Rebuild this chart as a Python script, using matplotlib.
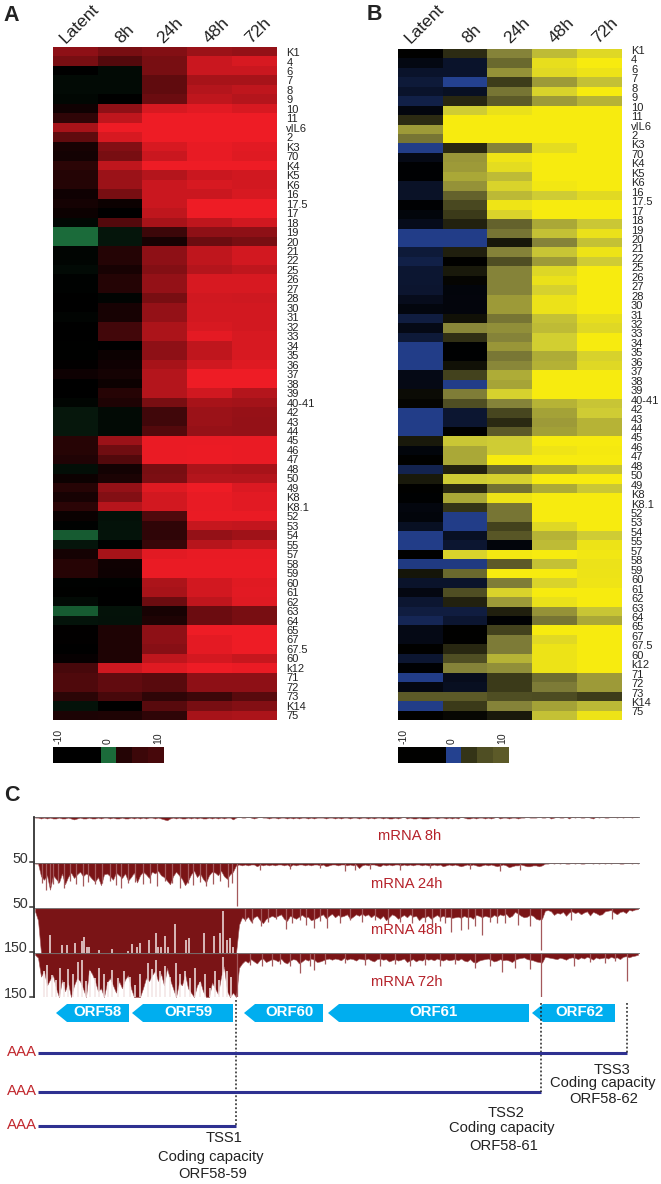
"""Recreate the three panel figure: two time course heatmaps and the mRNA coverage tracks."""

import numpy as np
import matplotlib
matplotlib.use('Agg')
import matplotlib.pyplot as plt
from matplotlib.colors import LinearSegmentedColormap
from matplotlib.patches import Polygon

plt.rcParams['font.family'] = ['Liberation Sans', 'DejaVu Sans']

W, H = 661, 1184

times = ['Latent', '8h', '24h', '48h', '72h']
genes = ['K1', '4', '6', '7', '8', '9', '10', '11', 'vIL6', '2',
         'K3', '70', 'K4', 'K5', 'K6', '16', '17.5', '17', '18', '19',
         '20', '21', '22', '25', '26', '27', '28', '30', '31', '32',
         '33', '34', '35', '36', '37', '38', '39', '40-41', '42', '43',
         '44', '45', '46', '47', '48', '50', '49', 'K8', 'K8.1', '52',
         '53', '54', '55', '57', '58', '59', '60', '61', '62', '63',
         '64', '65', '67', '67.5', '60', 'k12', '71', '72', '73', 'K14', '75']

# one row per gene, columns follow times
heat_a = [
    [6, 5, 5.5, 6.5, 6.2], [5, 3.5, 5, 8.5, 9], [0, -1, 5, 8.5, 8.5], [-1, -1, 4, 7, 7],
    [-1, -1, 4, 7.5, 8], [-0.7, 0, 4.5, 8, 7.5], [0.7, 6, 9, 9.5, 9], [2, 8, 10, 10, 10],
    [7, 10, 10, 10, 10], [4, 9, 10, 10, 10], [1, 5.5, 9, 9.7, 9.5], [0.8, 5, 8.5, 9.7, 9.3],
    [1.8, 8, 10, 10, 10], [1.5, 6.5, 7.5, 8.5, 8.7], [1.5, 6.5, 8.5, 9, 8.8], [0.7, 5, 8.5, 8.5, 9],
    [0.9, 0.5, 8.5, 10, 10], [0.5, 0, 8, 10, 10], [-0.7, 3.5, 7, 8, 8.7], [-10, -2, 2.5, 6, 6],
    [-10, -2, 1, 4.5, 5], [-0.5, 1.5, 6, 8, 8.8], [-0.5, 1.5, 6, 8, 8.8], [-1, 1, 5.5, 7.5, 8],
    [-0.3, 1.5, 6.2, 9, 9], [-0.3, 1.5, 6.2, 9, 9], [0, -0.4, 5, 8.7, 8.6], [0, 1, 6.2, 8.8, 8.8],
    [-0.4, 1, 6.2, 8.8, 8.8], [0, 2.8, 7.2, 9, 8.8], [0, 2.8, 7.2, 9.6, 9], [-0.1, 0, 6, 8, 9],
    [-0.1, 0.5, 6, 8, 9], [0.1, 0.7, 7, 8.7, 9.3], [0.6, 0.9, 7.5, 10, 10], [0, 0.5, 7.5, 10, 10],
    [0, 1.6, 7.5, 8.7, 7.5], [-0.5, 1.3, 5, 7, 6.8], [-2.2, -1, 2.7, 6.5, 6.3], [-2.2, -1, 2.7, 6.5, 6.2],
    [-2.2, -1, 3.5, 6.3, 6.2], [1.6, 6.5, 9.8, 9.8, 9.8], [1.6, 4.7, 9.8, 9.9, 9.8], [1.4, 3.5, 9.8, 9.9, 9.8],
    [-1.4, 0.8, 5, 7.2, 7], [0.5, 1.1, 5.2, 7.5, 7.5], [1.6, 6.2, 9.3, 10, 9.2], [1, 5.5, 8.8, 9.7, 9.5],
    [1.8, 7.6, 8.8, 9.7, 9.5], [0.4, -1.5, 3.3, 9.8, 9.8], [-0.3, -1.7, 2, 8.3, 8.2], [-8.5, -1.8, 2, 6.2, 6.7],
    [-2, -0.3, 2.3, 7.7, 8.3], [0.9, 7, 9.5, 9.7, 9.7], [1.6, 0.7, 9.8, 9.8, 9.8], [1.6, 0.6, 9.8, 9.8, 9.8],
    [-0.2, -0.2, 7.2, 8.8, 9.4], [-0.1, 0, 7, 8.8, 9.5], [-1, 0, 4.5, 8, 9.3], [-8.5, -1.7, 1, 4.5, 5],
    [-1.8, -1.6, 1.3, 4.5, 5], [0.1, 1.3, 6, 10, 10], [0.1, 1.3, 6, 9.6, 10], [0, 1.3, 5.7, 9.6, 10],
    [0.3, 1.3, 8, 8.9, 8.3], [3, 8.6, 9.4, 10, 9.8], [3.3, 4.1, 3.7, 6, 6], [3.3, 4.1, 3.7, 6, 6],
    [1.8, 3, 2, 2.5, 3.7], [-1.7, 0, 3.7, 5, 5.5], [1.2, 1.3, 2, 7, 7.2],
]

heat_b = [
    [0, 1.7, 5, 7.3, 8.8], [-1.3, -3, 4, 9.2, 10], [-3, -3, 5.7, 8.9, 9.5], [-4, -10, 2.3, 6, 7.5],
    [-3, -2.5, 4.5, 8.5, 10], [-5, 1.5, 3.5, 6, 7], [-1, 8, 9.3, 10, 10], [1.7, 10, 10, 10, 10],
    [6, 10, 10, 10, 10], [4.5, 10, 10, 10, 10], [-9.5, 1.5, 5, 9, 10], [-1.5, 5.8, 9.6, 10, 10],
    [-0.3, 6, 9, 10, 10], [-0.3, 6.5, 7.3, 10, 10], [-2.8, 5.7, 8.5, 9.7, 10], [-2.8, 3.8, 7.2, 8, 8.9],
    [-0.3, 2.8, 9.6, 10, 10], [-0.8, 2.2, 8.5, 10, 10], [-1.8, 1.3, 3.8, 6.5, 7.8], [-9.5, -9.5, 4.5, 7.5, 9.3],
    [-9.5, -9.5, 0.9, 5, 7.5], [-4, 1.2, 5, 7.7, 9.5], [-5, 0, 3, 6, 8], [-3.5, 1, 5, 8.7, 10],
    [-3.5, 0.2, 5, 9.3, 10], [-3.3, -0.8, 5, 8.3, 10], [-2, -0.9, 6, 9.4, 10], [-1, -0.9, 6, 9.4, 10],
    [-4.5, 0.7, 4.5, 7.5, 9.2], [-1.5, 5.2, 5.5, 7.3, 8.8], [-4, 1.8, 5, 8.2, 10], [-9.5, -0.2, 5.8, 8.2, 10],
    [-9.5, -0.2, 4.6, 6.7, 8.4], [-9.5, 0.7, 5.2, 6.9, 8.8], [-1.5, 2.5, 6.7, 10, 10], [-1.5, -9.5, 6.4, 10, 10],
    [0.4, 4.8, 8.3, 10, 10], [0.2, 3, 5, 7, 7.7], [-9.5, -3.5, 2.7, 6.3, 8], [-9.5, -3.5, 1.6, 6, 7],
    [-9.5, 0, 3.5, 6.2, 7], [1, 7.8, 8, 10, 10], [-0.8, 6.5, 8, 9.6, 9.9], [0, 6.5, 10, 10, 10],
    [-5.5, 1.3, 4, 6.3, 7.5], [1, 8, 8.3, 10, 10], [0, 1.6, 4.3, 6.6, 7.8], [-0.2, 6.5, 9.5, 10, 10],
    [-1, 2, 4.5, 10, 10], [-0.8, -9.5, 4.5, 10, 10], [-2.5, -9.5, 2.5, 8.8, 10], [-9.5, -2.5, 3.3, 7, 8],
    [-9.5, -3.5, -0.8, 7.3, 9.5], [0, 8.5, 9.8, 10, 9.7], [-9, -9, 3.5, 7.5, 9.4], [0.8, 4, 10, 10, 9.5],
    [-3, -3, 4.8, 8.5, 9.6], [-1.2, 3, 8.5, 10, 10], [-3.5, 1.3, 6, 9.3, 10], [-4.5, -4.5, 1.2, 5.7, 7.7],
    [-6, -3.5, -0.3, 4.5, 6.5], [-1.5, 0, 2.5, 10, 10], [-1.5, 0, 4.7, 8.9, 10], [0, 1.5, 4.7, 9.5, 10],
    [-3.5, 3, 7, 9.5, 10], [-0.3, 5, 5.5, 9.5, 10], [-9.5, -2, 2.2, 4.2, 6], [-1.2, -2.3, 2.2, 4.7, 6],
    [3.5, 3.5, 3, 2.9, 2.3], [-9.5, 2.2, 5, 6.3, 7.2], [0, 0.3, 1, 7.5, 9.5],
]

# colour key cells under each heatmap
key_a = [0, 0, 0, -10, 1.5, 2.5, 3]
key_b = [0, 0, 0, -10, 2, 3, 3.5]
key_labels = ['-10', '0', '10']

# coverage depth per 3 bp-like bin along the genome, one block of ten per row
depth_8h = [
    1, 1, 2, 1, 2, 1, 2, 2, 1, 2,
    2, 1, 2, 3, 2, 1, 2, 2, 1, 2,
    2, 1, 2, 1, 1, 2, 1, 2, 2, 1,
    2, 2, 1, 2, 1, 2, 1, 2, 1, 1,
    2, 1, 2, 3, 4, 2, 1, 2, 1, 2,
    2, 1, 2, 1, 2, 1, 2, 2, 1, 2,
    1, 2, 1, 2, 1, 1, 3, 1, 0, 1,
    1, 0, 1, 2, 1, 0, 1, 1, 2, 1,
    1, 2, 1, 1, 2, 1, 2, 1, 2, 1,
    1, 2, 1, 2, 1, 1, 1, 2, 1, 1,
    2, 1, 2, 1, 1, 2, 1, 1, 2, 1,
    1, 2, 1, 2, 1, 1, 2, 1, 2, 2,
    1, 2, 1, 0, 2, 1, 2, 2, 1, 2,
    2, 2, 1, 1, 2, 1, 1, 2, 1, 2,
    1, 2, 0, 1, 2, 2, 1, 2, 1, 1,
    2, 1, 2, 1, 0, 2, 1, 1, 2, 1,
    1, 2, 1, 1, 0, 1, 1, 1, 0, 1,
    1, 0, 2, 1, 0, 1, 1, 0, 2, 0,
    1, 0, 1, 1, 0, 1, 2, 0, 1, 0,
    1, 1, 0, 0, 1, 0, 1, 0, 0, 1,
    0, 0,
]
depth_24h = [
    1, 1, 15, 19, 14, 30, 14, 18, 22, 12,
    24, 16, 11, 17, 13, 10, 15, 12, 14, 18,
    21, 16, 25, 13, 12, 15, 19, 11, 14, 17,
    12, 20, 16, 11, 22, 14, 10, 13, 17, 10,
    12, 9, 14, 16, 20, 24, 15, 10, 14, 18,
    25, 20, 13, 9, 16, 12, 18, 22, 14, 10,
    11, 14, 9, 15, 18, 13, 10, 3, 2, 3,
    2, 3, 2, 2, 4, 2, 3, 2, 3, 2,
    3, 2, 2, 3, 2, 4, 2, 3, 2, 2,
    3, 2, 3, 2, 2, 3, 2, 4, 3, 2,
    2, 3, 2, 2, 3, 2, 3, 2, 6, 3,
    2, 3, 2, 2, 3, 4, 2, 3, 2, 3,
    2, 2, 3, 2, 3, 2, 3, 2, 2, 3,
    2, 3, 3, 2, 3, 2, 4, 3, 2, 3,
    2, 3, 4, 3, 2, 3, 2, 3, 4, 3,
    2, 3, 2, 3, 4, 3, 2, 3, 5, 4,
    3, 3, 2, 3, 4, 4, 3, 3, 4, 3,
    1, 1, 0, 1, 0, 1, 0, 1, 1, 0,
    1, 0, 1, 1, 0, 0, 1, 0, 1, 0,
    1, 0, 1, 0, 0, 1, 1, 0, 0, 1,
    0, 1,
]
depth_48h = [
    10, 40, 150, 150, 150, 150, 150, 150, 150, 150,
    150, 150, 150, 150, 150, 150, 150, 150, 150, 150,
    150, 150, 150, 150, 150, 150, 150, 150, 150, 150,
    150, 150, 150, 150, 150, 150, 150, 150, 150, 150,
    150, 150, 150, 150, 150, 150, 150, 150, 150, 150,
    150, 150, 150, 150, 150, 150, 150, 150, 150, 150,
    150, 150, 150, 150, 150, 150, 150, 150, 55, 30,
    38, 28, 45, 30, 25, 40, 50, 35, 30, 25,
    30, 25, 20, 35, 42, 25, 30, 35, 28, 22,
    30, 28, 40, 36, 32, 25, 20, 34, 25, 18,
    30, 22, 28, 25, 20, 35, 28, 20, 25, 18,
    25, 20, 30, 22, 28, 35, 25, 40, 30, 20,
    25, 35, 28, 22, 30, 20, 28, 25, 40, 30,
    30, 25, 35, 28, 22, 30, 25, 30, 28, 32,
    30, 28, 32, 25, 30, 28, 35, 22, 25, 30,
    25, 28, 30, 22, 28, 20, 24, 18, 30, 25,
    12, 18, 25, 30, 28, 22, 25, 35, 38, 35,
    8, 6, 10, 22, 15, 18, 12, 25, 14, 10,
    16, 12, 20, 14, 10, 24, 12, 16, 22, 20,
    10, 8, 6, 14, 20, 12, 10, 16, 5, 8,
    4, 3,
]
depth_72h = [
    5, 15, 80, 60, 110, 90, 75, 120, 150, 90,
    130, 100, 150, 110, 85, 95, 120, 150, 55, 70,
    95, 130, 120, 150, 100, 85, 110, 135, 95, 120,
    90, 75, 120, 150, 150, 150, 120, 85, 95, 75,
    60, 95, 70, 110, 50, 90, 120, 150, 100, 110,
    70, 120, 135, 150, 110, 95, 130, 150, 150, 100,
    120, 140, 80, 45, 130, 150, 135, 150, 50, 35,
    25, 32, 20, 28, 35, 22, 18, 30, 25, 20,
    22, 28, 18, 30, 35, 25, 20, 22, 35, 28,
    20, 25, 18, 22, 30, 28, 24, 20, 18, 22,
    18, 20, 24, 16, 22, 18, 20, 25, 18, 20,
    22, 18, 24, 28, 20, 18, 22, 20, 28, 24,
    20, 25, 22, 18, 30, 24, 20, 28, 22, 25,
    18, 22, 20, 24, 18, 22, 25, 20, 24, 22,
    20, 24, 18, 25, 28, 20, 30, 32, 25, 22,
    20, 18, 22, 28, 25, 20, 24, 22, 25, 30,
    22, 18, 16, 14, 20, 22, 24, 28, 30, 32,
    12, 14, 16, 18, 20, 15, 18, 22, 16, 14,
    16, 20, 14, 18, 12, 16, 22, 14, 18, 16,
    14, 18, 12, 16, 14, 20, 12, 10, 14, 10,
    8, 5,
]

# single position peaks: genome position, depth
spikes_24h = [(237, 48), (46, 30), (355, 8),
              (42, 22), (50, 26), (53, 24), (58, 22), (64, 28), (70, 20), (76, 24), (83, 26),
              (88, 21), (95, 24), (102, 22), (110, 20), (116, 25), (121, 28), (128, 22), (135, 21),
              (143, 24), (150, 22), (157, 26), (165, 20), (172, 23), (180, 28), (188, 22), (193, 25),
              (200, 21), (206, 26), (213, 24), (220, 20), (228, 27), (232, 22),
              (260, 8), (290, 7), (320, 6), (345, 9), (370, 7), (400, 8), (430, 6), (470, 7),
              (500, 9), (520, 8)]
spikes_48h = [(541, 140), (261, 58), (286, 70), (314, 67), (327, 67), (451, 80), (461, 72),
              (468, 70), (482, 89), (497, 48), (571, 40), (612, 37),
              (245, 42), (252, 50), (268, 45), (276, 35), (292, 48), (300, 40), (306, 55), (320, 42),
              (340, 50), (350, 38), (362, 45), (375, 40), (388, 52), (400, 44), (412, 50), (425, 46),
              (432, 55), (440, 42), (445, 50), (475, 60), (490, 45), (505, 50), (518, 55), (530, 58)]
spikes_72h = [(237, 150), (541, 150), (627, 95), (502, 65), (574, 44), (300, 67), (314, 58), (272, 44),
              (250, 40), (262, 45), (280, 38), (290, 42), (310, 44), (325, 36), (345, 35), (365, 40),
              (380, 45), (395, 38), (410, 42), (425, 40), (440, 44), (455, 38), (475, 50), (490, 45),
              (515, 50), (530, 55), (590, 30), (605, 35), (615, 28)]

# single position dips in the high coverage block: genome position, depth at the dip
dips_48h = [(50, 89), (62, 122), (67, 122), (75, 114), (82, 108), (84, 94), (87, 128), (89, 128),
            (99, 138), (112, 136), (128, 142), (132, 118), (137, 130), (140, 115), (149, 105),
            (156, 83), (158, 130), (161, 130), (165, 92), (168, 130), (175, 52), (186, 105),
            (189, 100), (204, 83), (214, 92), (220, 81), (223, 8), (227, 105), (230, 100), (233, 130)]
dips_72h = [(44, 60), (47, 40), (52, 75), (56, 90), (60, 50), (64, 100), (68, 55), (73, 70), (78, 30),
            (82, 23), (86, 95), (90, 60), (95, 85), (99, 50), (104, 70), (108, 100), (112, 57),
            (118, 85), (124, 60), (130, 80), (135, 110), (140, 70), (148, 33), (152, 55), (156, 22),
            (160, 60), (165, 45), (170, 80), (176, 35), (180, 70), (185, 60), (190, 85), (195, 50),
            (200, 100), (205, 70), (210, 120), (215, 60), (219, 90), (223, 11), (227, 60), (231, 80)]

track_names = ['mRNA 8h', 'mRNA 24h', 'mRNA 48h', 'mRNA 72h']
scale_labels = ['50', '50', '150', '150']
orf_names = ['ORF58', 'ORF59', 'ORF60', 'ORF61', 'ORF62']
orf_left = [56, 132, 244, 328, 532]
orf_right = [129, 233, 323, 529, 615]
tss_pos = [236, 541, 627]

DARK = '#7a1416'
TIP = '#a4585b'
RED_TEXT = '#b5222a'
GREY = '#6e6e6e'

cmap_a = LinearSegmentedColormap.from_list('green_red', ['#1b6b3a', '#000000', '#ee1c25'])
cmap_b = LinearSegmentedColormap.from_list(
    'blue_yellow',
    [(0, '#24418f'), (0.5, '#000000'), (0.75, '#84823a'), (0.9, '#cfcc35'), (1, '#f7eb0f')])


def px_axes(fig, x0, y0, x1, y1):
    """Add an Axes given a box in image pixels, y counted from the top."""
    return fig.add_axes([x0 / W, 1 - y1 / H, (x1 - x0) / W, (y1 - y0) / H])


def draw_heatmap(fig, values, cmap, box, label_shift):
    ax = px_axes(fig, *box)
    ax.imshow(np.array(values), aspect='auto', cmap=cmap, vmin=-10, vmax=10, interpolation='nearest')
    ax.set_xticks([])
    ax.yaxis.tick_right()
    ax.set_yticks(np.arange(len(genes)) + label_shift, genes, fontsize=8, color='#222222')
    ax.tick_params(axis='y', length=0, pad=6.5)
    for side in ax.spines.values():
        side.set_visible(False)
    return ax


def draw_key(fig, values, cmap, box, label_at):
    ax = px_axes(fig, *box)
    ax.imshow(np.array([values]), aspect='auto', cmap=cmap, vmin=-10, vmax=10, interpolation='nearest')
    ax.set_yticks([])
    ax.xaxis.tick_top()
    ax.set_xticks(label_at, key_labels, rotation=90, fontsize=7.5, color='#222222')
    ax.tick_params(axis='x', length=0, pad=2)
    for side in ax.spines.values():
        side.set_visible(False)


def draw_track(fig, depth, ymax, box, spikes=(), dips=()):
    ax = px_axes(fig, *box)
    pos = 35 + 3 * np.arange(len(depth))
    ax.fill_between(pos, depth, 0, facecolor=DARK, edgecolor=TIP, linewidth=0.4)
    for x, d in spikes:
        ax.vlines(x, 0, d, color=TIP, linewidth=0.9)
    for x, d in dips:
        ax.vlines(x, d, ymax, color='#f3e4e4', linewidth=1.1)
    ax.axhline(0, color=GREY, linewidth=1.2, zorder=5)
    ax.set_xlim(box[0], box[2])
    ax.set_ylim(ymax, 0)
    ax.axis('off')
    return ax


def main():
    fig = plt.figure(figsize=(W / 100, H / 100), dpi=100)

    draw_heatmap(fig, heat_a, cmap_a, (53.3, 47.3, 277.3, 720), 0)
    draw_heatmap(fig, heat_b, cmap_b, (398.3, 49, 622, 720), -0.4)
    draw_key(fig, key_a, cmap_a, (53.3, 747, 164, 763), [-0.14, 2.93, 6.13])
    draw_key(fig, key_b, cmap_b, (398.3, 747, 509, 763), [-0.2, 2.9, 6.1])

    draw_track(fig, depth_8h, 50, (33, 816.7, 640, 861.7))
    draw_track(fig, depth_24h, 50, (33, 862.7, 640, 907.7), spikes_24h)
    draw_track(fig, depth_48h, 150, (33, 908.3, 640, 953.3), spikes_48h, dips_48h)
    draw_track(fig, depth_72h, 150, (33, 953.3, 640, 997), spikes_72h, dips_72h)

    # overlay in image pixels for the annotation layer
    over = fig.add_axes([0, 0, 1, 1])
    over.set_xlim(0, W)
    over.set_ylim(H, 0)
    over.axis('off')
    over.patch.set_alpha(0)

    for letter, x, y in [('A', 3, 21), ('B', 367, 20), ('C', 4, 801)]:
        over.text(x, y, letter, fontsize=15.5, fontweight='bold', color='#222222')

    for starts in ([66, 121, 163, 210, 251], [411, 468, 510, 555, 598]):
        for name, x in zip(times, starts):
            over.text(x, 44, name, fontsize=12.5, rotation=45, rotation_mode='anchor',
                      ha='left', va='baseline', color='#222222')

    # depth scale on the left of the tracks
    tick_y = [861.7, 906.5, 951.5, 996.5]
    over.plot([33.5, 33.5], [817, 997], color='#333333', linewidth=1.3)
    for y, label in zip(tick_y, scale_labels):
        over.plot([29.5, 33.5], [y, y], color='#333333', linewidth=1.1)
        over.text(28, y - 3, label, fontsize=10.3, ha='right', va='center', color='#333333')

    for name, x, y in zip(track_names, [410, 407, 407, 407], [835.7, 883.7, 930, 982]):
        over.text(x, y, name, fontsize=10.6, ha='center', va='center', color=RED_TEXT)

    # reading frames along the genome
    for name, left, right in zip(orf_names, orf_left, orf_right):
        shape = [(left, 1013), (left + 11, 1004), (right, 1004), (right, 1022), (left + 11, 1022)]
        over.add_patch(Polygon(shape, closed=True, facecolor='#00aeef', edgecolor='none'))
        over.text((left + 11 + right) / 2, 1012.5, name, fontsize=10.8, fontweight='bold',
                  color='white', ha='center', va='center')

    # transcripts with their start sites
    line_y = [1126, 1092, 1053]
    dot_top = [1000, 1003, 1003]
    for x, y, top in zip(tss_pos, line_y, dot_top):
        over.plot([38, x], [y, y], color='#2e3191', linewidth=2.2, solid_capstyle='butt')
        over.plot([x, x], [top, y], color='#222222', linewidth=1.1, linestyle=(0, (1.2, 1.4)))
        over.text(37, y - 1, 'AAA', fontsize=10.8, ha='right', va='center', color='#c1272d')

    notes = [
        (224.5, 1138, 'TSS1'), (211, 1157, 'Coding capacity'), (213, 1174, 'ORF58-59'),
        (506, 1113, 'TSS2'), (502, 1128, 'Coding capacity'), (504, 1146, 'ORF58-61'),
        (612, 1069.5, 'TSS3'), (602.5, 1083, 'Coding capacity'), (604, 1099, 'ORF58-62'),
    ]
    for x, y, text in notes:
        over.text(x, y, text, fontsize=10.6, ha='center', va='center', color='#222222')

    fig.savefig('out.png', dpi=100)
    plt.close(fig)


if __name__ == '__main__':
    main()
